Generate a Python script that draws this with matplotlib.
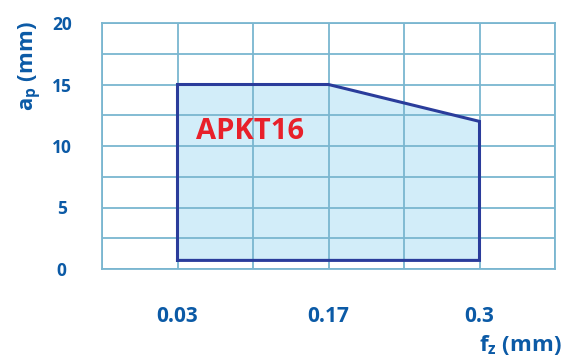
import matplotlib
matplotlib.use("Agg")
import matplotlib.pyplot as plt
from matplotlib.ticker import MultipleLocator

# Data
fz_labels = ["0.03", "0.17", "0.3"]
ap_max = [15, 15, 12]
ap_min = [0.7, 0.7, 0.7]
y_ticks = [0, 5, 10, 15, 20]
region_label = "APKT16"

plt.rcParams["mathtext.fontset"] = "custom"
plt.rcParams["mathtext.bf"] = "Open Sans:bold"
plt.rcParams["mathtext.rm"] = "Open Sans:bold"

FONT = ["Open Sans", "DejaVu Sans"]
tick_color = "#0b5aa6"
grid_color = "#7ab6d0"
fill_color = "#d2edf9"
edge_color = "#2a3c9b"

fig = plt.figure(figsize=(5.66, 3.6), dpi=100)
ax = fig.add_axes([102/566, 1-269/360, (555-102)/566, (269-23)/360])

xpos = [1 + 2*i for i in range(len(fz_labels))]

px = [xpos[0]] + xpos + [xpos[-1]] + xpos[::-1]
py = [ap_min[0]] + ap_max + [ap_min[-1]] + ap_min[::-1]
ax.fill(px, py, facecolor=fill_color, edgecolor="none", zorder=1)
ax.plot(px + [px[0]], py + [py[0]], color=edge_color, lw=2.2, zorder=3,
        solid_joinstyle="miter")

ax.set_xlim(0, 6)
ax.set_ylim(0, 20)
ax.xaxis.set_minor_locator(MultipleLocator(1))
ax.yaxis.set_minor_locator(MultipleLocator(2.5))
ax.set_xticks(xpos)
ax.set_xticklabels(fz_labels)
ax.set_yticks(y_ticks)
ax.grid(True, which="both", color=grid_color, lw=1.3, zorder=2)
ax.set_axisbelow(False)
for s in ax.spines.values():
    s.set_color(grid_color)
    s.set_linewidth(1.3)
ax.tick_params(which="both", length=0)
ax.tick_params(axis="x", pad=27, labelsize=15, labelcolor=tick_color)
ax.tick_params(axis="y", pad=29, labelsize=12.5, labelcolor=tick_color)
for lab in ax.get_xticklabels() + ax.get_yticklabels():
    lab.set_fontfamily(FONT)
    lab.set_fontweight("bold")
for lab in ax.get_yticklabels():
    lab.set_horizontalalignment("center")

ax.text(0.208, 0.56, region_label, transform=ax.transAxes, color="#e8202a",
        fontsize=21, fontweight="bold", family=FONT, va="center", ha="left", zorder=5)

fig.text(30/566, 1-66/360, r"$\mathbf{a}_{\mathbf{p}}$ (mm)", rotation=90,
         color=tick_color, fontsize=16, fontweight="bold", family=FONT,
         ha="center", va="center")
fig.text(562/566, 1-345/360, r"$\mathbf{f}_{\mathbf{z}}$ (mm)",
         color=tick_color, fontsize=16, fontweight="bold", family=FONT,
         ha="right", va="center")

fig.savefig("out.png", dpi=100)
